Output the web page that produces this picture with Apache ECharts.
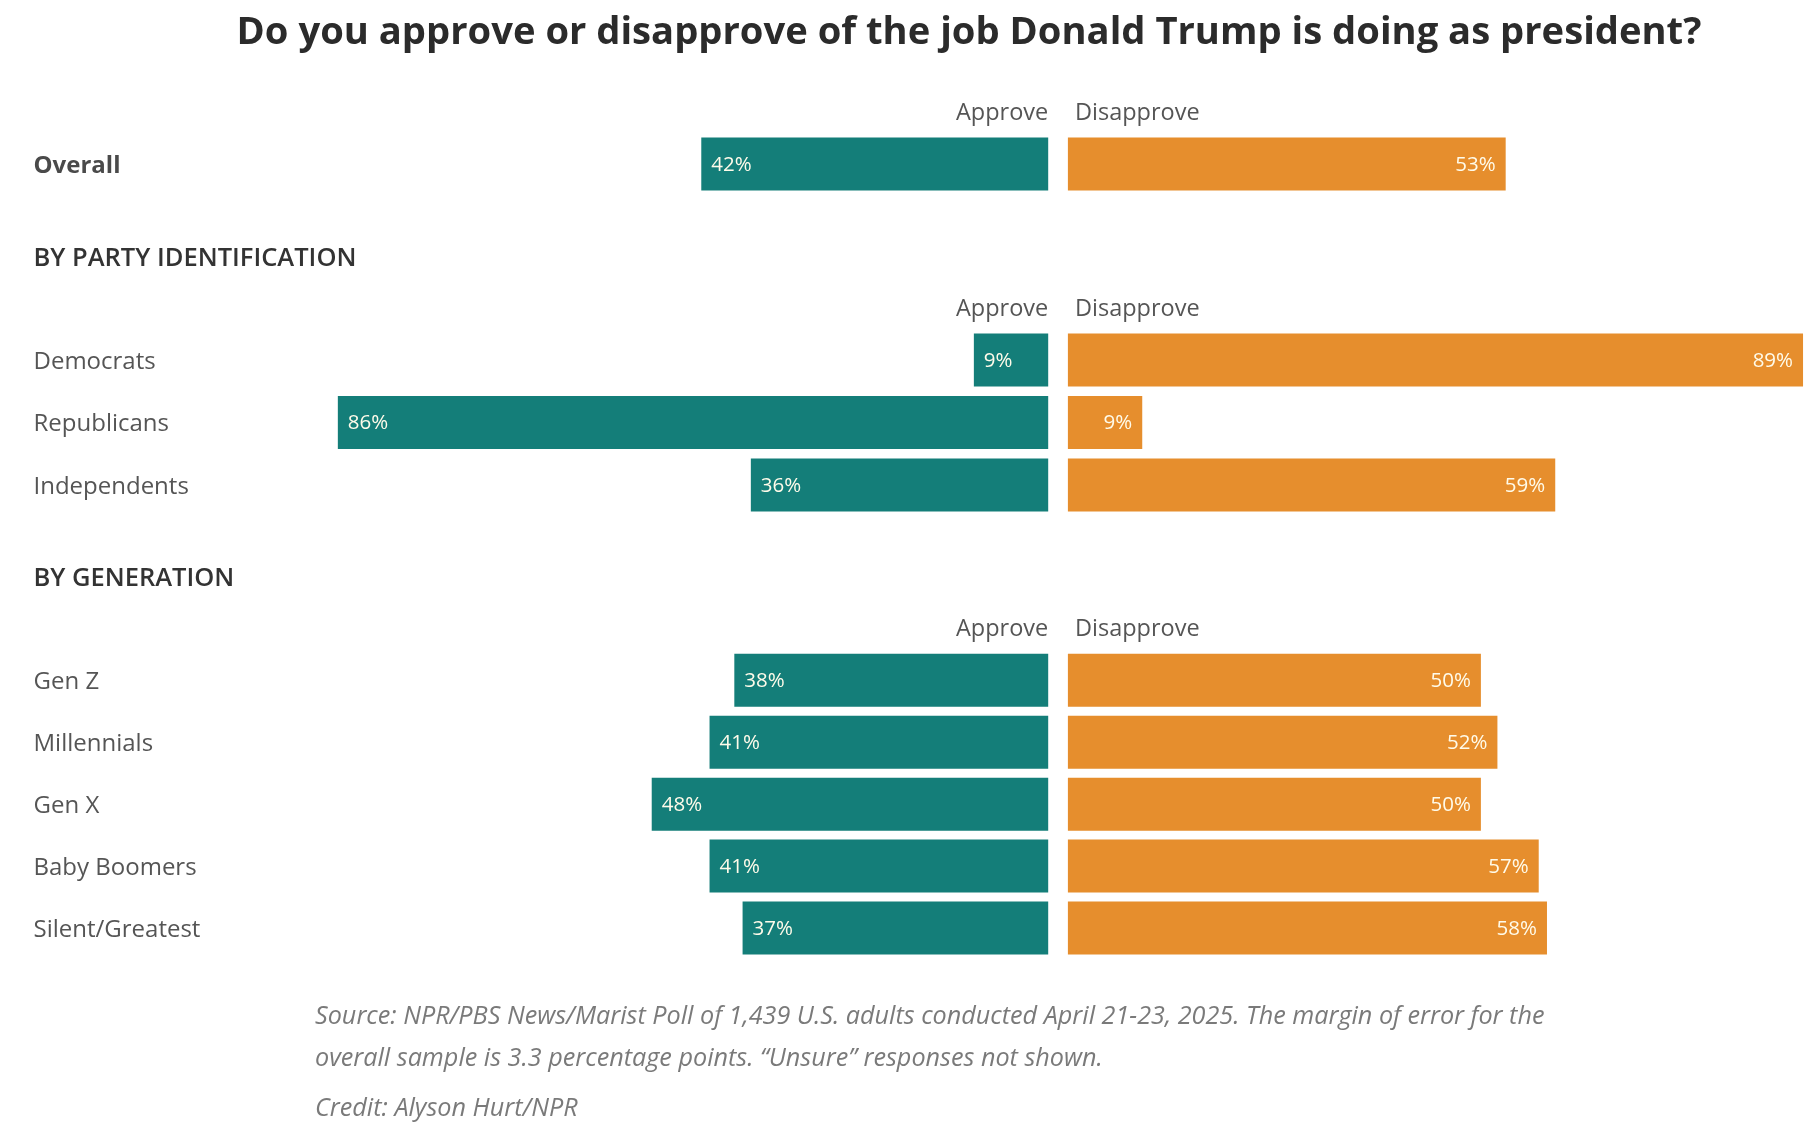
<!DOCTYPE html>
<html>
<head>
<meta charset="utf-8">
<script src="https://cdn.jsdelivr.net/npm/echarts@6/dist/echarts.min.js"></script>
<style>
html,body{margin:0;padding:0;background:#fff;}
#chart{width:1814px;height:1134px;}
</style>
</head>
<body>
<div id="chart"></div>
<script>
// ---- data ----
const overallCats = ['Overall'];
const overallApprove = [42];
const overallDisapprove = [53];

const partyCats = ['Democrats', 'Republicans', 'Independents'];
const partyApprove = [9, 86, 36];
const partyDisapprove = [89, 9, 59];

const genCats = ['Gen Z', 'Millennials', 'Gen X', 'Baby Boomers', 'Silent/Greatest'];
const genApprove = [38, 41, 48, 41, 37];
const genDisapprove = [50, 52, 50, 57, 58];

const titleText = 'Do you approve or disapprove of the job Donald Trump is doing as president?';
const sectionTitles = ['BY PARTY IDENTIFICATION', 'BY GENERATION'];
const colHeaders = ['Approve', 'Disapprove'];
const noteLines = [
  'Source: NPR/PBS News/Marist Poll of 1,439 U.S. adults conducted April 21-23, 2025. The margin of error for the',
  'overall sample is 3.3 percentage points. \u201cUnsure\u201d responses not shown.'
];
const creditText = 'Credit: Alyson Hurt/NPR';

// ---- layout ----
const FONT = '"Open Sans", "Noto Sans", sans-serif';
const TEAL = '#147e79';
const ORANGE = '#e68e2d';
const PXPER = 8.26;
const MAXV = 90;
const APP_RIGHT = 1048.2;
const DIS_LEFT = 1067.9;
const W = MAXV * PXPER;
const LABEL_X = 33.5;

const sections = [
  { cats: overallCats, app: overallApprove, dis: overallDisapprove, top: 133, band: 62, bold: true },
  { cats: partyCats, app: partyApprove, dis: partyDisapprove, top: 328.75, band: 62.5, bold: false },
  { cats: genCats, app: genApprove, dis: genDisapprove, top: 649.4, band: 61.9, bold: false }
];

const grid = [], xAxis = [], yAxis = [], series = [];
sections.forEach((s, i) => {
  const h = s.band * s.cats.length;
  grid.push({ left: APP_RIGHT - W, top: s.top, width: W, height: h });
  grid.push({ left: DIS_LEFT, top: s.top, width: W, height: h });
  const ga = i * 2, gd = i * 2 + 1;
  xAxis.push({ gridIndex: ga, type: 'value', min: 0, max: MAXV, inverse: true, show: false });
  xAxis.push({ gridIndex: gd, type: 'value', min: 0, max: MAXV, show: false });
  yAxis.push({
    gridIndex: ga, type: 'category', data: s.cats, inverse: true, position: 'left',
    axisLine: { show: false, onZero: false }, axisTick: { show: false },
    axisLabel: {
      margin: (APP_RIGHT - W) - LABEL_X, align: 'left',
      formatter: '{v|{value}}',
      rich: {
        v: {
          padding: [4, 0, 0, 0],
          fontFamily: FONT, fontSize: 24, color: s.bold ? '#4a4a4a' : '#555555',
          fontWeight: s.bold ? 'bold' : 'normal'
        }
      }
    }
  });
  yAxis.push({
    gridIndex: gd, type: 'category', data: s.cats, inverse: true,
    axisLine: { show: false, onZero: false }, axisTick: { show: false }, axisLabel: { show: false }
  });
  const lbl = (pos) => ({
    show: true, position: pos, distance: 10,
    formatter: '{p|{c}%}',
    rich: { p: { padding: [2, 0, 0, 0], color: '#fffbea', fontFamily: FONT, fontSize: 20.5, fontWeight: 500 } }
  });
  series.push({
    type: 'bar', name: 'Approve', xAxisIndex: ga, yAxisIndex: ga, data: s.app,
    barWidth: 53, itemStyle: { color: TEAL }, label: lbl('insideLeft'), silent: true
  });
  series.push({
    type: 'bar', name: 'Disapprove', xAxisIndex: gd, yAxisIndex: gd, data: s.dis,
    barWidth: 53, itemStyle: { color: ORANGE }, label: lbl('insideRight'), silent: true
  });
});

const graphic = [];
const headerYs = [113, 309, 629];
headerYs.forEach(y => {
  graphic.push({ type: 'text', x: APP_RIGHT, y: y, style: { text: colHeaders[0], fill: '#555555', font: '23.5px ' + FONT, textAlign: 'right', textVerticalAlign: 'middle' } });
  graphic.push({ type: 'text', x: 1075, y: y, style: { text: colHeaders[1], fill: '#555555', font: '23.5px ' + FONT, textAlign: 'left', textVerticalAlign: 'middle' } });
});
const sectionYs = [259.2, 579.2];
sectionTitles.forEach((t, i) => {
  graphic.push({ type: 'text', x: LABEL_X, y: sectionYs[i], style: { text: t, fill: '#333333', font: '600 25.5px ' + FONT, textAlign: 'left', textVerticalAlign: 'middle' } });
});
const noteBaselines = [1029.5, 1071];
noteLines.forEach((t, i) => {
  graphic.push({ type: 'text', x: 315, y: noteBaselines[i], style: { text: t, fill: '#7a7a7a', font: 'italic 25.2px ' + FONT, textAlign: 'left', textVerticalAlign: 'bottom' } });
});
graphic.push({ type: 'text', x: 315, y: 1121, style: { text: creditText, fill: '#7a7a7a', font: 'italic 25.2px ' + FONT, textAlign: 'left', textVerticalAlign: 'bottom' } });

const chart = echarts.init(document.getElementById('chart'));
chart.setOption({
  backgroundColor: '#ffffff',
  animation: false,
  title: {
    text: titleText, left: 964, top: 9, textAlign: 'center',
    textStyle: { fontFamily: FONT, fontSize: 38.2, fontWeight: 'bold', color: '#2b2b2b' }
  },
  grid, xAxis, yAxis, series, graphic
});
</script>
</body>
</html>
